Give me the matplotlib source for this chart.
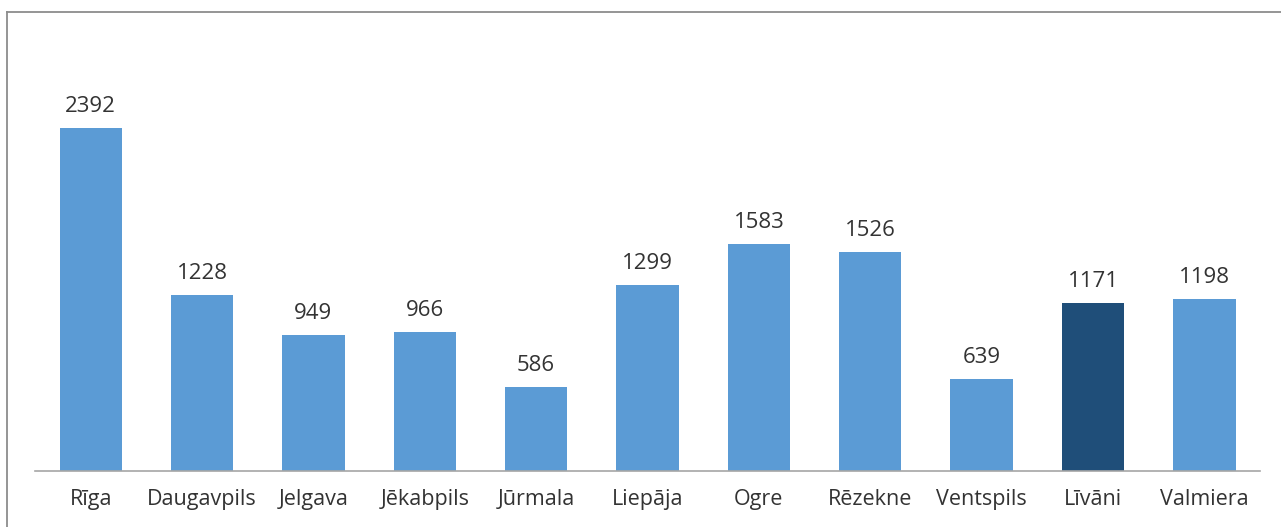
import matplotlib
matplotlib.use("Agg")
import matplotlib.pyplot as plt
from matplotlib.lines import Line2D

cities = ["Rīga", "Daugavpils", "Jelgava", "Jēkabpils", "Jūrmala", "Liepāja",
          "Ogre", "Rēzekne", "Ventspils", "Līvāni", "Valmiera"]
values = [2392, 1228, 949, 966, 586, 1299, 1583, 1526, 639, 1171, 1198]
highlight = "Līvāni"

light = "#5B9BD5"
dark = "#1F4E79"
text_col = "#333333"

plt.rcParams["font.family"] = ["Open Sans", "DejaVu Sans"]

W, H = 1281, 527
fig = plt.figure(figsize=(W / 100, H / 100), dpi=100)
ax = fig.add_axes([35 / W, (H - 471) / H, (1260 - 35) / W, (471 - 40) / H])

colors = [dark if c == highlight else light for c in cities]
x = range(len(cities))
bars = ax.bar(x, values, width=0.56, color=colors, zorder=2)

for b, v in zip(bars, values):
    ax.annotate(str(v), (b.get_x() + b.get_width() / 2, v),
                xytext=(0, 8), textcoords="offset points",
                ha="center", va="bottom", fontsize=16, color=text_col)

ax.set_xlim(-0.5, len(cities) - 0.5)
ax.set_ylim(0, (471 - 40) / (343 / 2392))
ax.set_xticks(list(x))
ax.set_xticklabels(cities, fontsize=15.5, color=text_col)
ax.tick_params(axis="x", length=0, pad=13)
ax.set_yticks([])
for s in ["top", "right", "left"]:
    ax.spines[s].set_visible(False)
ax.spines["bottom"].set_color("#A6A6A6")
ax.spines["bottom"].set_linewidth(1.2)

# chart frame (only left and top edges visible in the crop)
fx = 6.5 / W
fy = 1 - 11.5 / H
fig.add_artist(Line2D([fx, fx], [0, fy], transform=fig.transFigure,
                      color="#8C8C8C", lw=1.3))
fig.add_artist(Line2D([fx, 1], [fy, fy], transform=fig.transFigure,
                      color="#8C8C8C", lw=1.3))

fig.savefig("out.png", dpi=100)
